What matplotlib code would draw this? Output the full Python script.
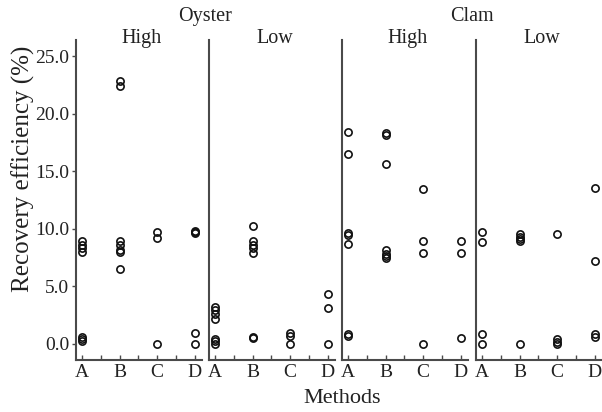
import matplotlib
matplotlib.use("Agg")
import matplotlib.pyplot as plt

# recovery efficiency (%) per method A-D, one list per panel
methods = ["A", "B", "C", "D"]

oyster_high = [[8.9, 8.6, 8.3, 8.0, 0.6, 0.4, 0.2],
               [22.8, 22.4, 8.9, 8.6, 8.1, 8.0, 6.5],
               [9.7, 9.2, 0.0],
               [9.8, 9.7, 9.6, 0.9, 0.0]]
oyster_low = [[3.2, 2.9, 2.6, 2.1, 0.4, 0.2, 0.0],
              [10.2, 8.9, 8.6, 8.3, 7.9, 0.6, 0.5],
              [0.9, 0.7, 0.0],
              [4.3, 3.1, 0.0]]
clam_high = [[18.4, 16.5, 9.6, 9.4, 8.7, 0.8, 0.7],
             [18.3, 18.1, 15.6, 8.1, 7.8, 7.6, 7.4],
             [13.4, 8.9, 7.9, 0.0],
             [8.9, 7.9, 0.5]]
clam_low = [[9.7, 8.8, 0.8, 0.0],
            [9.5, 9.3, 9.1, 8.9, 0.0],
            [9.5, 0.4, 0.1, 0.0],
            [13.5, 7.2, 0.8, 0.6]]

panels = [oyster_high, oyster_low, clam_high, clam_low]
levels = ["High", "Low", "High", "Low"]
species = ["Oyster", "Clam"]
yticks = [0, 5, 10, 15, 20, 25]

plt.rcParams["font.family"] = ["Liberation Serif", "DejaVu Serif"]

W, H = 602, 412
fig = plt.figure(figsize=(W / 100, H / 100), dpi=100)

lefts = [76, 209, 342, 476]
pw = 126
bottom, top = 360, 40
spine_col = "#4a4a4a"
text_col = "#222222"

for i, (data, lev) in enumerate(zip(panels, levels)):
    ax = fig.add_axes([lefts[i] / W, 1 - bottom / H, pw / W, (bottom - top) / H])
    for j, vals in enumerate(data):
        ax.plot([j + 1] * len(vals), vals, "o", ms=5.2, mfc="none",
                mec="#111111", mew=1.2, ls="none", clip_on=False)
    ax.set_xlim(0.84, 4.2)
    ax.set_ylim(-1.43, 26.4)
    ax.set_xticks([1, 2, 3, 4])
    ax.set_xticklabels(methods, fontsize=14, color=text_col)
    ax.set_xticks([1.5, 2.5, 3.5], minor=True)
    ax.tick_params(axis="x", which="both", direction="in", length=3.5,
                   width=1.0, color=spine_col, pad=3)
    for side in ["top", "right"]:
        ax.spines[side].set_visible(False)
    for side in ["left", "bottom"]:
        ax.spines[side].set_color(spine_col)
        ax.spines[side].set_linewidth(1.5)
    if i == 0:
        ax.set_yticks(yticks)
        ax.set_yticklabels(["%.1f" % t for t in yticks], fontsize=14,
                           color=text_col)
        ax.tick_params(axis="y", direction="out", length=3, width=1.0,
                       color=spine_col, pad=2)
    else:
        ax.set_yticks([])
    ax.text(0.52, 0.99, lev, transform=ax.transAxes, ha="center",
            va="baseline", fontsize=14.5, color=text_col)

# group titles over each pair of panels
for k, name in enumerate(species):
    cx = (lefts[2 * k] + pw + lefts[2 * k + 1]) / 2
    fig.text(cx / W, 1 - 21 / H, name, ha="center", va="baseline",
             fontsize=14.5, color=text_col)

fig.text(342 / W, 1 - 403 / H, "Methods", ha="center", va="baseline",
         fontsize=16, color=text_col)
fig.text(23 / W, 1 - 169 / H, "Recovery efficiency (%)", rotation=90,
         ha="center", va="center", fontsize=18, color=text_col)

fig.savefig("out.png", dpi=100)
